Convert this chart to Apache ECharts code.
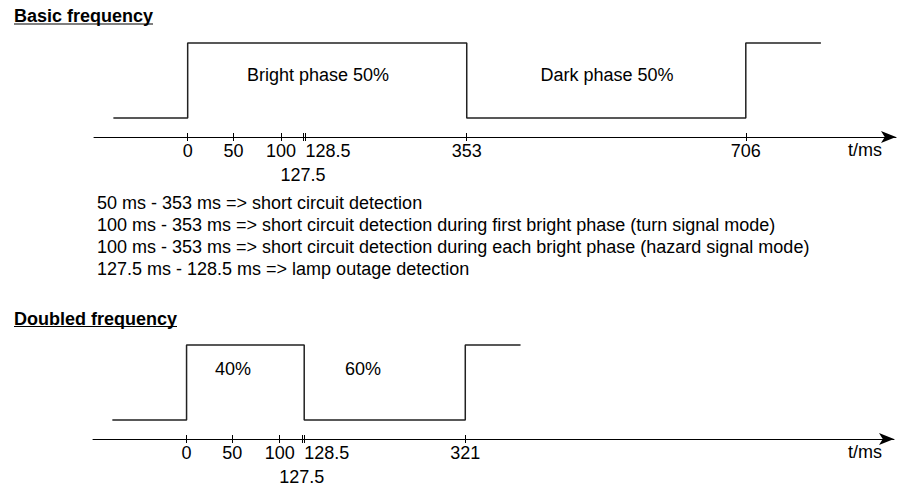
<!DOCTYPE html>
<html>
<head>
<meta charset="utf-8">
<script src="https://cdn.jsdelivr.net/npm/echarts@6/dist/echarts.min.js"></script>
<style>html,body{margin:0;padding:0;background:#fff}#c{width:897px;height:493px}</style>
</head>
<body>
<div id="c"></div>
<script>
// ---- data (times in ms) ----
const basicTicks = [0, 50, 100, 127.5, 128.5, 353, 706];
const doubledTicks = [0, 50, 100, 127.5, 128.5, 321];
const basicWaveTimes = [-94, 0, 0, 353, 353, 706, 706, 801];
const basicWaveLevels = [0, 0, 1, 1, 0, 0, 1, 1];
const doubledWaveTimes = [-94, 0, 0, 128.5, 128.5, 321, 321, 391];
const doubledWaveLevels = [0, 0, 1, 1, 0, 0, 1, 1];
const lowerRowLabels = [127.5];      // tick labels written on a second row
const leftAlignedLabels = [128.5];   // tick labels starting at their tick
const notes = [
  '50 ms - 353 ms => short circuit detection',
  '100 ms - 353 ms => short circuit detection during first bright phase (turn signal mode)',
  '100 ms - 353 ms => short circuit detection during each bright phase (hazard signal mode)',
  '127.5 ms - 128.5 ms => lamp outage detection'
];
// schematic (not-to-scale) time axis: time knots -> axis units
const basicScaleTimes = [0, 50, 100, 127.5, 128.5, 353, 706];
const basicScaleUnits = [0, 58, 118, 146, 149, 353, 706];
const doubledScaleTimes = [0, 50, 100, 127.5, 128.5, 321];
const doubledScaleUnits = [0, 58, 118, 146, 149, 353];

function warp(t, times, units) {
  const n = times.length;
  if (t <= times[0]) return units[0] + (t - times[0]);
  if (t >= times[n - 1]) return units[n - 1] + (t - times[n - 1]);
  for (let i = 0; i < n - 1; i++) {
    if (t >= times[i] && t <= times[i + 1]) {
      const f = (times[i + 1] === times[i]) ? 0 : (t - times[i]) / (times[i + 1] - times[i]);
      return units[i] + f * (units[i + 1] - units[i]);
    }
  }
}
function unwarp(v, times, units) {
  for (let i = 0; i < units.length; i++) if (Math.abs(units[i] - v) < 1e-6) return times[i];
  return v;
}

const FONT = 'Liberation Sans, Arial, sans-serif';
const FS = 18;
const chart = echarts.init(document.getElementById('c'), null, {renderer: 'svg'});

function axesFor(gridIndex, times, units, ticks) {
  const w = t => warp(t, times, units);
  const vals = ticks.map(w);
  const mainLabels = ticks.filter(t => lowerRowLabels.indexOf(t) < 0 && leftAlignedLabels.indexOf(t) < 0).map(w);
  const fmt = v => String(unwarp(v, times, units));
  const lab = {fontSize: FS, fontFamily: FONT, color: '#000', lineHeight: 18, formatter: fmt, hideOverlap: false};
  const common = {type: 'value', gridIndex, position: 'bottom', min: -118.5, max: 896, splitLine: {show: false}};
  return [
    Object.assign({}, common, {
      axisLine: {show: true, onZero: false, lineStyle: {color: '#000', width: 1}, symbol: ['none', 'arrow'], symbolSize: [9, 15]},
      axisTick: {show: true, inside: true, length: 4, customValues: vals, lineStyle: {color: '#000'}},
      axisLabel: Object.assign({show: true, customValues: mainLabels, margin: 5}, lab)
    }),
    Object.assign({}, common, {
      axisLine: {show: false, onZero: false},
      axisTick: {show: true, inside: false, length: 4, customValues: vals, lineStyle: {color: '#000'}},
      axisLabel: Object.assign({show: true, customValues: lowerRowLabels.map(w), margin: 29}, lab)
    }),
    Object.assign({}, common, {
      axisLine: {show: false, onZero: false},
      axisTick: {show: false},
      axisLabel: Object.assign({show: true, customValues: leftAlignedLabels.map(w), margin: 5, align: 'left'}, lab)
    })
  ];
}

function wave(times, levels, st, su) {
  return times.map((t, i) => [warp(t, st, su), levels[i]]);
}

const txt = (x, y, text, extra) => Object.assign({
  type: 'text', x, y,
  style: Object.assign({text, fontSize: FS, fontFamily: FONT, fill: '#000', textAlign: 'left', textVerticalAlign: 'middle'}, extra || {})
});

const graphics = [
  txt(14, 16, 'Basic frequency', {fontWeight: 'bold'}),
  {type: 'line', shape: {x1: 14, y1: 24, x2: 153, y2: 24}, style: {stroke: '#000', lineWidth: 1.2}},
  txt(14, 318.5, 'Doubled frequency', {fontWeight: 'bold'}),
  {type: 'line', shape: {x1: 14, y1: 326.5, x2: 177, y2: 326.5}, style: {stroke: '#000', lineWidth: 1.2}},
  txt(318, 75, 'Bright phase 50%', {textAlign: 'center'}),
  txt(607, 75, 'Dark phase 50%', {textAlign: 'center'}),
  txt(233, 369, '40%', {textAlign: 'center'}),
  txt(363, 369, '60%', {textAlign: 'center'}),
  txt(865, 150, 't/ms', {textAlign: 'center'}),
  txt(865, 452, 't/ms', {textAlign: 'center'})
];
notes.forEach((n, i) => graphics.push(txt(97, 203 + i * 22, n)));

const yCommon = {type: 'value', min: -0.253, max: 1, show: false, splitLine: {show: false}};

chart.setOption({
  animation: false,
  backgroundColor: '#fff',
  grid: [
    {left: 94, right: 1, top: 43, height: 94},
    {left: 93, right: 3, top: 345, height: 94}
  ],
  xAxis: [].concat(axesFor(0, basicScaleTimes, basicScaleUnits, basicTicks),
                   axesFor(1, doubledScaleTimes, doubledScaleUnits, doubledTicks)),
  yAxis: [Object.assign({gridIndex: 0}, yCommon), Object.assign({gridIndex: 1}, yCommon)],
  series: [
    {type: 'line', xAxisIndex: 0, yAxisIndex: 0, data: wave(basicWaveTimes, basicWaveLevels, basicScaleTimes, basicScaleUnits),
      showSymbol: false, clip: false, lineStyle: {color: '#222', width: 1.5}},
    {type: 'line', xAxisIndex: 3, yAxisIndex: 1, data: wave(doubledWaveTimes, doubledWaveLevels, doubledScaleTimes, doubledScaleUnits),
      showSymbol: false, clip: false, lineStyle: {color: '#222', width: 1.5}}
  ],
  graphic: graphics
});
</script>
</body>
</html>
